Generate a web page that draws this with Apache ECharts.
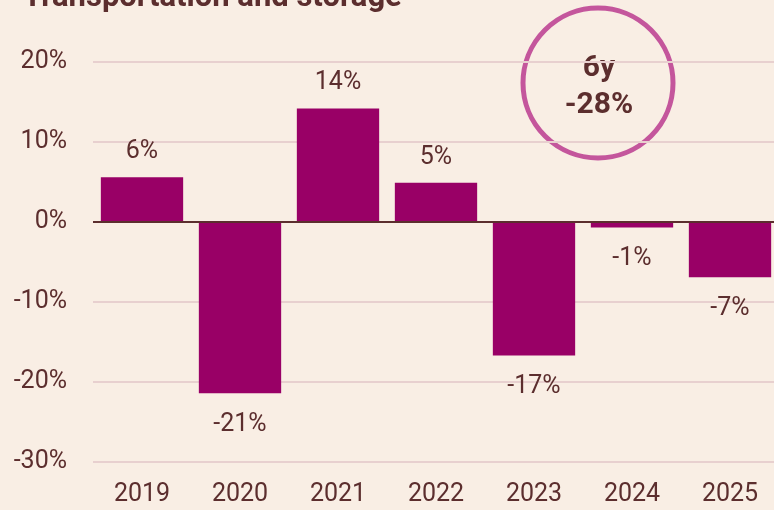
<!DOCTYPE html>
<html>
<head>
<meta charset="utf-8">
<script src="https://cdn.jsdelivr.net/npm/echarts@6/dist/echarts.min.js"></script>
<style>
  html, body { margin: 0; padding: 0; background: #f9eee4; }
  #chart { width: 774px; height: 510px; }
</style>
</head>
<body>
<div id="chart"></div>
<script>
// data
const years = ["2019", "2020", "2021", "2022", "2023", "2024", "2025"];
const changes = [5.6, -21.4, 14.2, 4.9, -16.7, -0.7, -6.9];
const yTicks = { min: -30, max: 20, step: 10 };
const badgeLines = ["6y", "-28%"];

const brown = "#5c2e2e";
const chart = echarts.init(document.getElementById("chart"));

// labels above positive bars, below negative ones
const barData = changes.map((v) => ({
  value: v,
  label: v >= 0 ? { position: "top", distance: 13 } : { position: "bottom", distance: 19 },
}));

const option = {
  backgroundColor: "#f9eee4",
  animation: false,
  textStyle: { fontFamily: "Roboto" },
  title: {
    text: "Transportation and storage",
    left: 18,
    top: -22,
    textStyle: { color: brown, fontSize: 31, fontWeight: "bold", fontFamily: "Roboto" },
  },
  grid: {
    left: 93,
    width: 686,
    top: 62,
    bottom: 48,
    containLabel: false,
    outerBoundsMode: "none",
  },
  xAxis: {
    type: "category",
    data: years,
    axisLine: { show: false },
    axisTick: { show: false },
    axisLabel: { color: brown, fontSize: 25, margin: 20 },
  },
  yAxis: {
    type: "value",
    min: yTicks.min,
    max: yTicks.max,
    interval: yTicks.step,
    axisLine: { show: false },
    axisTick: { show: false },
    axisLabel: { color: brown, fontSize: 25, margin: 26, formatter: "{value}%" },
    splitLine: { lineStyle: { color: "#e8d0cf", width: 2 } },
  },
  series: [
    {
      type: "bar",
      data: barData,
      barCategoryGap: "16%",
      itemStyle: { color: "#990066" },
      label: {
        show: true,
        color: brown,
        fontSize: 25,
        formatter: (p) => Math.round(p.value) + "%",
      },
      markLine: {
        silent: true,
        symbol: "none",
        label: { show: false },
        lineStyle: { color: brown, width: 2, type: "solid" },
        data: [{ yAxis: 0 }],
      },
    },
  ],
  graphic: [
    {
      type: "circle",
      shape: { cx: 598, cy: 83, r: 75 },
      style: { fill: "none", stroke: "#c4569c", lineWidth: 5 },
    },
    {
      type: "text",
      x: 599,
      y: 68,
      style: {
        text: badgeLines[0],
        fill: brown,
        fontFamily: "Roboto",
        fontSize: 30,
        fontWeight: "bold",
        align: "center",
        verticalAlign: "middle",
      },
    },
    {
      type: "text",
      x: 599,
      y: 105,
      style: {
        text: badgeLines[1],
        fill: brown,
        fontFamily: "Roboto",
        fontSize: 30,
        fontWeight: "bold",
        align: "center",
        verticalAlign: "middle",
      },
    },
  ],
};

chart.setOption(option);
</script>
</body>
</html>
